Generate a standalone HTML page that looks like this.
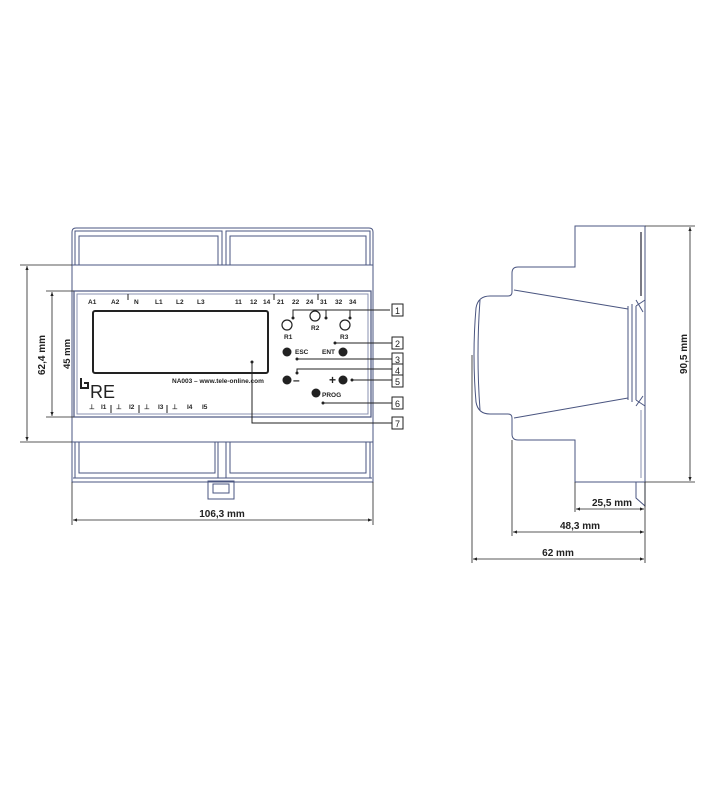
<!DOCTYPE html>
<html><head><meta charset="utf-8"><style>
html,body{margin:0;padding:0;background:#fff;}
svg{display:block;font-family:"Liberation Sans",sans-serif;}
</style></head><body>
<svg width="710" height="800" viewBox="0 0 710 800" xmlns="http://www.w3.org/2000/svg">
<defs>
<marker id="a" viewBox="0 0 10 10" refX="10" refY="5" markerWidth="7" markerHeight="5" orient="auto-start-reverse"><path d="M0,1 L10,5 L0,9 z" fill="#222"/></marker>
</defs>
<g fill="none" stroke="#4a5580" stroke-width="1">
<path d="M72,482 V232 Q72,228 76,228 H369 Q373,228 373,232 V482 Z"/>
<line x1="72" y1="265" x2="373" y2="265"/>
<line x1="72" y1="442" x2="373" y2="442"/>
<path d="M75,265 V231 H222 V265 M79,265 V236 H218 V265"/>
<path d="M226,265 V231 H370 V265 M230,265 V236 H366 V265"/>
<rect x="74" y="291" width="297" height="126" stroke-width="1.2"/>
<rect x="77" y="294" width="291" height="120" stroke="#8890b0"/>
<path d="M75,442 V478 H218 V442 M79,442 V473 H215 V442"/>
<path d="M226,442 V478 H370 V442 M230,442 V473 H366 V442"/>
<line x1="73" y1="478" x2="372" y2="478"/>
<rect x="208" y="481" width="26" height="18"/>
<rect x="213" y="484" width="16" height="9"/>
<path d="M575,226 H645 V482 H575 V440 H518 Q512,440 512,434 V418 Q512,414 508,414 H490 Q478,414 476,402 Q472,355 476,308 Q478,296 490,296 H508 Q512,296 512,292 V273 Q512,267 518,267 H575 Z"/>
<path d="M480,300 Q476,355 480,410" />
<line x1="514" y1="290" x2="628" y2="309"/>
<line x1="514" y1="418" x2="628" y2="398"/>
<path d="M628,306 V400 M632,304 V402 M636,306 V400"/>
<path d="M636,306 L645,300 M636,400 L645,406 M636,300 L643,312 M636,406 L643,396"/>
<path d="M636,482 V498 L645,506 V482"/>
<line x1="641" y1="232" x2="641" y2="296" stroke="#223" stroke-width="1.2"/>
<line x1="641" y1="410" x2="641" y2="478" stroke="#8890b0"/>
</g>
<g stroke="#222" stroke-width="0.8" fill="none">
<line x1="20" y1="265" x2="72" y2="265"/><line x1="20" y1="442" x2="72" y2="442"/>
<line x1="27" y1="266" x2="27" y2="441" marker-start="url(#a)" marker-end="url(#a)"/>
<line x1="46" y1="291" x2="74" y2="291"/><line x1="46" y1="417" x2="74" y2="417"/>
<line x1="52" y1="292" x2="52" y2="416" marker-start="url(#a)" marker-end="url(#a)"/>
<line x1="72" y1="482" x2="72" y2="525"/><line x1="373" y1="482" x2="373" y2="525"/>
<line x1="73" y1="520" x2="372" y2="520" marker-start="url(#a)" marker-end="url(#a)"/>
<line x1="645" y1="226" x2="695" y2="226"/><line x1="645" y1="482" x2="695" y2="482"/>
<line x1="690" y1="227" x2="690" y2="481" marker-start="url(#a)" marker-end="url(#a)"/>
<line x1="575" y1="482" x2="575" y2="512"/>
<line x1="645" y1="482" x2="645" y2="563"/>
<line x1="576" y1="509" x2="644" y2="509" marker-start="url(#a)" marker-end="url(#a)"/>
<line x1="512" y1="440" x2="512" y2="536"/>
<line x1="513" y1="532" x2="644" y2="532" marker-start="url(#a)" marker-end="url(#a)"/>
<line x1="472" y1="355" x2="472" y2="563"/>
<line x1="473" y1="559" x2="644" y2="559" marker-start="url(#a)" marker-end="url(#a)"/>
</g>
<g font-size="10" font-weight="bold" fill="#222">
<text x="222" y="517" text-anchor="middle">106,3 mm</text>
<text transform="translate(45,355) rotate(-90)" text-anchor="middle">62,4 mm</text>
<text transform="translate(70,354) rotate(-90)" text-anchor="middle" font-size="9.5">45 mm</text>
<text transform="translate(687,354) rotate(-90)" text-anchor="middle">90,5 mm</text>
<text x="612" y="506" text-anchor="middle">25,5 mm</text>
<text x="580" y="529" text-anchor="middle">48,3 mm</text>
<text x="558" y="556" text-anchor="middle">62 mm</text>
</g>
<rect x="93" y="311" width="175" height="62" rx="2" fill="none" stroke="#222" stroke-width="2"/>
<g font-size="6.5" font-weight="bold" fill="#222">
<text x="88" y="304">A1</text><text x="111" y="304">A2</text><text x="134" y="304">N</text>
<text x="155" y="304">L1</text><text x="176" y="304">L2</text><text x="197" y="304">L3</text>
<text x="235" y="304">11</text><text x="250" y="304">12</text><text x="263" y="304">14</text>
<text x="277" y="304">21</text><text x="292" y="304">22</text><text x="306" y="304">24</text>
<text x="320" y="304">31</text><text x="335" y="304">32</text><text x="349" y="304">34</text>
<text x="284" y="339">R1</text><text x="311" y="330">R2</text><text x="340" y="339">R3</text>
<text x="295" y="354">ESC</text><text x="322" y="354">ENT</text>
<text x="322" y="397">PROG</text>
<text x="172" y="383">NA003 – www.tele-online.com</text>
</g>
<g font-size="6.5" font-weight="bold" fill="#222">
<text x="89" y="409">⊥</text><text x="101" y="409">I1</text><text x="116" y="409">⊥</text>
<text x="129" y="409">I2</text><text x="144" y="409">⊥</text><text x="158" y="409">I3</text>
<text x="172" y="409">⊥</text><text x="187" y="409">I4</text><text x="202" y="409">I5</text>
</g>
<g stroke="#222" stroke-width="1">
<line x1="128" y1="294" x2="128" y2="300"/><line x1="274" y1="294" x2="274" y2="300"/><line x1="318" y1="294" x2="318" y2="300"/>
<line x1="111" y1="405" x2="111" y2="413"/><line x1="139" y1="405" x2="139" y2="413"/><line x1="167" y1="405" x2="167" y2="413"/>
</g>
<text x="90" y="398" font-size="18" fill="#222">RE</text>
<path d="M81,378 V388 H88 V383 H84" fill="none" stroke="#222" stroke-width="2"/>
<g fill="none" stroke="#222" stroke-width="1.2">
<circle cx="287" cy="325" r="5"/><circle cx="315" cy="316" r="5"/><circle cx="345" cy="325" r="5"/>
</g>
<g fill="#222">
<circle cx="287" cy="352" r="4.5"/><circle cx="343" cy="352" r="4.5"/>
<circle cx="287" cy="380" r="4.5"/><circle cx="343" cy="380" r="4.5"/>
<circle cx="316" cy="393" r="4.5"/>
<circle cx="293" cy="318" r="1.5"/><circle cx="326" cy="318" r="1.5"/><circle cx="350" cy="318" r="1.5"/>
<circle cx="335" cy="343" r="1.5"/><circle cx="297" cy="359" r="1.5"/><circle cx="297" cy="373" r="1.5"/>
<circle cx="352" cy="380" r="1.5"/><circle cx="323" cy="403" r="1.5"/><circle cx="252" cy="362" r="1.5"/>
</g>
<text x="293" y="384" font-size="12" font-weight="bold" fill="#222">–</text>
<text x="329" y="384" font-size="12" font-weight="bold" fill="#222">+</text>
<g fill="none" stroke="#222" stroke-width="1">
<path d="M293,318 V310 H390 M326,318 V310 M350,318 V310"/>
<path d="M335,343 H392"/><path d="M297,359 H392"/>
<path d="M297,373 V369 H392"/><path d="M352,380 H392"/>
<path d="M323,403 H392"/><path d="M252,362 V423 H392"/>
</g>
<g fill="#fff" stroke="#222" stroke-width="1">
<rect x="392" y="304" width="11" height="12"/><rect x="392" y="337" width="11" height="12"/>
<rect x="392" y="353" width="11" height="12"/><rect x="392" y="364" width="11" height="12"/>
<rect x="392" y="375" width="11" height="12"/><rect x="392" y="397" width="11" height="12"/>
<rect x="392" y="417" width="11" height="12"/>
</g>
<g font-size="9" fill="#222" text-anchor="middle">
<text x="397.5" y="314">1</text><text x="397.5" y="347">2</text><text x="397.5" y="363">3</text>
<text x="397.5" y="374">4</text><text x="397.5" y="385">5</text><text x="397.5" y="407">6</text><text x="397.5" y="427">7</text>
</g>
</svg>
</body></html>
